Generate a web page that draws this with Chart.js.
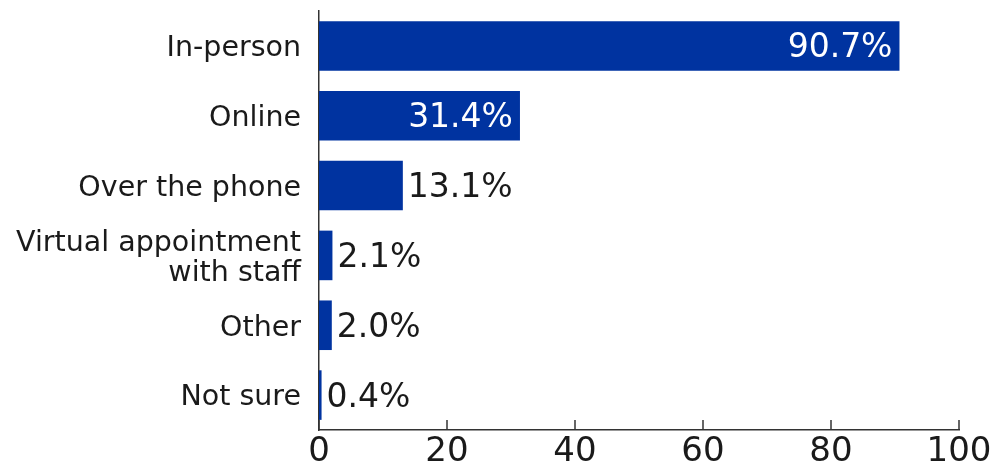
<!DOCTYPE html>
<html lang="en">
  <head>
    <meta charset="UTF-8" />
    <title>Contact method</title>
    <script src="https://cdn.jsdelivr.net/npm/chart.js"></script>
    <style>
      body { margin: 0; background: #fff; }
      #wrap { width: 992px; height: 472px; }
    </style>
  </head>
  <body>
    <div id="wrap"><canvas id="myChart"></canvas></div>

    <script>
      const categories = ['In-person', 'Online', 'Over the phone', ['Virtual appointment', 'with staff'], 'Other', 'Not sure'];
      const shares = [90.7, 31.4, 13.1, 2.1, 2.0, 0.4];
      const xTicks = [0, 20, 40, 60, 80, 100];

      const barColor = '#0033a0';
      const textColor = '#1a1a1a';
      const fontFamily = '"DejaVu Sans", sans-serif';

      // value labels: white inside long bars, black just past short ones
      const valueLabels = {
        id: 'valueLabels',
        afterDatasetsDraw(chart) {
          const ctx = chart.ctx;
          const meta = chart.getDatasetMeta(0);
          ctx.save();
          ctx.font = '33px ' + fontFamily;
          ctx.textBaseline = 'middle';
          meta.data.forEach((bar, i) => {
            const txt = shares[i].toFixed(1) + '%';
            if (shares[i] > 25) {
              ctx.fillStyle = '#fff';
              ctx.textAlign = 'right';
              ctx.fillText(txt, bar.x - 7, bar.y + 3);
            } else {
              ctx.fillStyle = textColor;
              ctx.textAlign = 'left';
              ctx.fillText(txt, bar.x + 5, bar.y + 3);
            }
          });
          ctx.restore();
        }
      };

      // short tick marks pointing up from the x axis
      const innerTicks = {
        id: 'innerTicks',
        afterDraw(chart) {
          const ctx = chart.ctx;
          const x = chart.scales.x;
          const bottom = chart.chartArea.bottom;
          ctx.save();
          ctx.strokeStyle = '#333';
          ctx.lineWidth = 1.5;
          xTicks.forEach(v => {
            const px = Math.round(x.getPixelForValue(v));
            ctx.beginPath();
            ctx.moveTo(px, bottom);
            ctx.lineTo(px, bottom - 10);
            ctx.stroke();
          });
          ctx.restore();
        }
      };

      const ctx = document.getElementById('myChart').getContext('2d');
      new Chart(ctx, {
        type: 'bar',
        data: {
          labels: categories,
          datasets: [{
            data: shares,
            backgroundColor: barColor,
            borderWidth: 0,
            barPercentage: 0.71,
            categoryPercentage: 1
          }]
        },
        options: {
          indexAxis: 'y',
          responsive: true,
          maintainAspectRatio: false,
          animation: false,
          layout: { padding: { top: 11, right: 33, left: 0, bottom: 0 } },
          plugins: {
            legend: { display: false },
            tooltip: { enabled: false }
          },
          scales: {
            x: {
              min: 0,
              max: 100,
              afterBuildTicks(axis) { axis.ticks = xTicks.map(v => ({ value: v })); },
              afterFit(axis) {
                axis.height = 42;
                axis.paddingLeft = 0;
                axis.paddingRight = 0;
              },
              grid: { display: false, drawTicks: false },
              border: { display: true, color: '#333', width: 1.5 },
              ticks: {
                color: textColor,
                padding: 2,
                maxRotation: 0,
                font: { family: fontFamily, size: 34 }
              }
            },
            y: {
              afterFit(axis) {
                axis.width = 319;
                axis.paddingTop = 0;
                axis.paddingBottom = 0;
              },
              grid: { display: false, drawTicks: false },
              border: { display: true, color: '#333', width: 1.5 },
              ticks: {
                color: textColor,
                padding: 18,
                labelOffset: 3,
                font: { family: fontFamily, size: 28.5, lineHeight: 1.05 }
              }
            }
          }
        },
        plugins: [valueLabels, innerTicks]
      });
    </script>
  </body>
</html>
